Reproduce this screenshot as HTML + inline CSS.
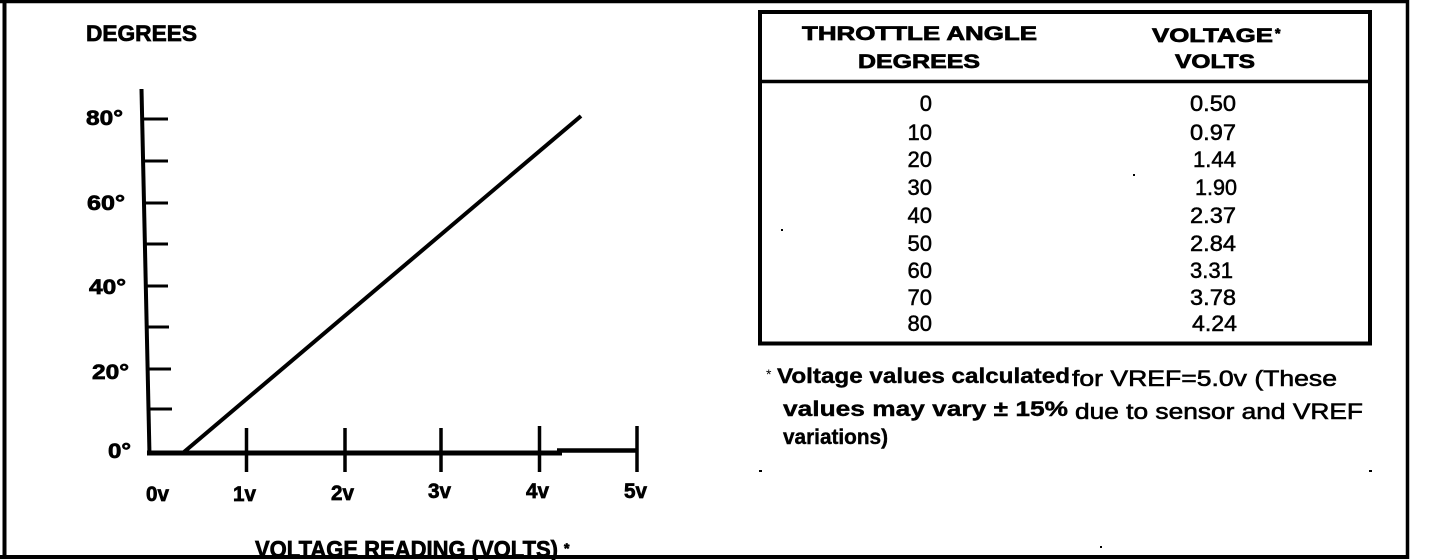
<!DOCTYPE html>
<html>
<head>
<meta charset="utf-8">
<style>
  html,body{margin:0;padding:0;background:#fff;}
  body{width:1440px;height:560px;overflow:hidden;}
  svg{display:block;}
  text{font-family:"Liberation Sans", Arial, sans-serif;fill:#000;}
  .b{font-weight:bold;stroke:#000;stroke-width:0.7px;}
</style>
</head>
<body>
<svg width="1440" height="560" viewBox="0 0 1440 560" xmlns="http://www.w3.org/2000/svg">
  <rect x="0" y="0" width="1440" height="560" fill="#fff"/>
  <!-- outer border -->
  <line x1="4.5" y1="0" x2="4.5" y2="559" stroke="#000" stroke-width="4"/>
  <line x1="0" y1="1.5" x2="1409" y2="1.5" stroke="#000" stroke-width="3.5"/>
  <line x1="1407.5" y1="0" x2="1407.5" y2="559" stroke="#000" stroke-width="3.5"/>
  <line x1="0" y1="557" x2="1409" y2="557" stroke="#000" stroke-width="4"/>

  <!-- LEFT CHART -->
  <text class="b" x="86" y="41" font-size="22" textLength="111" lengthAdjust="spacingAndGlyphs">DEGREES</text>

  <!-- y axis -->
  <line x1="141.5" y1="89" x2="149.5" y2="455" stroke="#000" stroke-width="4"/>
  <!-- y ticks -->
  <g stroke="#000" stroke-width="3">
    <line x1="142" y1="119" x2="168" y2="119"/>
    <line x1="143" y1="161" x2="168" y2="161"/>
    <line x1="143" y1="203" x2="168" y2="203"/>
    <line x1="144" y1="244" x2="168" y2="244"/>
    <line x1="145" y1="286" x2="168" y2="286"/>
    <line x1="146" y1="327" x2="169" y2="327"/>
    <line x1="147" y1="369" x2="171" y2="369"/>
    <line x1="148" y1="409" x2="172" y2="409"/>
  </g>
  <text class="b" x="86" y="125" font-size="21" textLength="37" lengthAdjust="spacingAndGlyphs">80°</text>
  <text class="b" x="87" y="210" font-size="21" textLength="38" lengthAdjust="spacingAndGlyphs">60°</text>
  <text class="b" x="89" y="294" font-size="21" textLength="37" lengthAdjust="spacingAndGlyphs">40°</text>
  <text class="b" x="92" y="379" font-size="21" textLength="37" lengthAdjust="spacingAndGlyphs">20°</text>
  <text class="b" x="108" y="458" font-size="21" textLength="23" lengthAdjust="spacingAndGlyphs">0°</text>

  <!-- x axis -->
  <line x1="147" y1="453" x2="562" y2="453" stroke="#000" stroke-width="5"/>
  <line x1="557" y1="450.5" x2="638" y2="450.5" stroke="#000" stroke-width="4.5"/>
  <g stroke="#000" stroke-width="3.5">
    <line x1="246.5" y1="428" x2="246.5" y2="472"/>
    <line x1="345" y1="428" x2="345" y2="472"/>
    <line x1="441" y1="428" x2="441" y2="472"/>
    <line x1="539.5" y1="426" x2="539.5" y2="472"/>
    <line x1="637" y1="426" x2="637" y2="472"/>
  </g>
  <text class="b" x="146" y="501" font-size="21" textLength="23" lengthAdjust="spacingAndGlyphs">0v</text>
  <text class="b" x="233" y="501" font-size="21" textLength="23" lengthAdjust="spacingAndGlyphs">1v</text>
  <text class="b" x="331" y="500" font-size="21" textLength="23" lengthAdjust="spacingAndGlyphs">2v</text>
  <text class="b" x="428" y="498" font-size="21" textLength="23" lengthAdjust="spacingAndGlyphs">3v</text>
  <text class="b" x="526" y="498" font-size="21" textLength="23" lengthAdjust="spacingAndGlyphs">4v</text>
  <text class="b" x="624" y="498" font-size="21" textLength="23" lengthAdjust="spacingAndGlyphs">5v</text>

  <!-- data line -->
  <line x1="184" y1="452" x2="581" y2="116" stroke="#000" stroke-width="4"/>

  <text class="b" x="255" y="557" font-size="23" textLength="303" lengthAdjust="spacingAndGlyphs">VOLTAGE READING (VOLTS)</text>
  <text class="b" x="564" y="553" font-size="14">*</text>

  <!-- TABLE -->
  <rect x="760" y="12" width="610" height="331.5" fill="none" stroke="#000" stroke-width="4"/>
  <line x1="760" y1="81.5" x2="1370" y2="81.5" stroke="#000" stroke-width="3.5"/>

  <text class="b" x="802" y="40" font-size="19" textLength="235" lengthAdjust="spacingAndGlyphs">THROTTLE ANGLE</text>
  <text class="b" x="858" y="68" font-size="19" textLength="122" lengthAdjust="spacingAndGlyphs">DEGREES</text>
  <text class="b" x="1152" y="42" font-size="19" textLength="121" lengthAdjust="spacingAndGlyphs">VOLTAGE</text>
  <text class="b" x="1275" y="38" font-size="14">*</text>
  <text class="b" x="1175" y="68" font-size="19" textLength="80" lengthAdjust="spacingAndGlyphs">VOLTS</text>

  <g font-size="22" text-anchor="end" stroke="#000" stroke-width="0.5">
    <text x="932" y="111">0</text>
    <text x="932" y="140">10</text>
    <text x="932" y="167">20</text>
    <text x="932" y="195">30</text>
    <text x="932" y="223">40</text>
    <text x="932" y="251">50</text>
    <text x="932" y="278">60</text>
    <text x="932" y="305">70</text>
    <text x="932" y="331">80</text>
  </g>
  <g font-size="22" stroke="#000" stroke-width="0.5">
    <text x="1190" y="111" textLength="46" lengthAdjust="spacingAndGlyphs">0.50</text>
    <text x="1190" y="140" textLength="46" lengthAdjust="spacingAndGlyphs">0.97</text>
    <text x="1193" y="167" textLength="43" lengthAdjust="spacingAndGlyphs">1.44</text>
    <text x="1195" y="195" textLength="42" lengthAdjust="spacingAndGlyphs">1.90</text>
    <text x="1190" y="223" textLength="46" lengthAdjust="spacingAndGlyphs">2.37</text>
    <text x="1190" y="251" textLength="46" lengthAdjust="spacingAndGlyphs">2.84</text>
    <text x="1190" y="278" textLength="43" lengthAdjust="spacingAndGlyphs">3.31</text>
    <text x="1190" y="305" textLength="46" lengthAdjust="spacingAndGlyphs">3.78</text>
    <text x="1192" y="331" textLength="45" lengthAdjust="spacingAndGlyphs">4.24</text>
  </g>

  <!-- FOOTNOTE -->
  <text x="766" y="379" font-size="14">*</text>
  <text class="b" x="777" y="383" font-size="21" textLength="293" lengthAdjust="spacingAndGlyphs" style="stroke-width:0.4px">Voltage values calculated</text>
  <text x="1072" y="386" font-size="22" stroke="#000" stroke-width="0.6" textLength="265" lengthAdjust="spacingAndGlyphs">for VREF=5.0v (These</text>
  <text class="b" x="783" y="416" font-size="21" textLength="285" lengthAdjust="spacingAndGlyphs" style="stroke-width:0.4px">values may vary ± 15%</text>
  <text x="1075" y="419" font-size="22" stroke="#000" stroke-width="0.6" textLength="288" lengthAdjust="spacingAndGlyphs">due to sensor and VREF</text>
  <text class="b" x="783" y="444" font-size="21" textLength="105" lengthAdjust="spacingAndGlyphs" style="stroke-width:0.4px">variations)</text>

  <!-- specks -->
  <g fill="#000">
    <rect x="759" y="470" width="3" height="2"/>
    <rect x="1369" y="470" width="3" height="2"/>
    <rect x="1100" y="546" width="2" height="2"/>
    <rect x="1133" y="174" width="2" height="2"/>
    <rect x="781" y="229" width="2" height="2"/>
  </g>
</svg>
</body>
</html>
